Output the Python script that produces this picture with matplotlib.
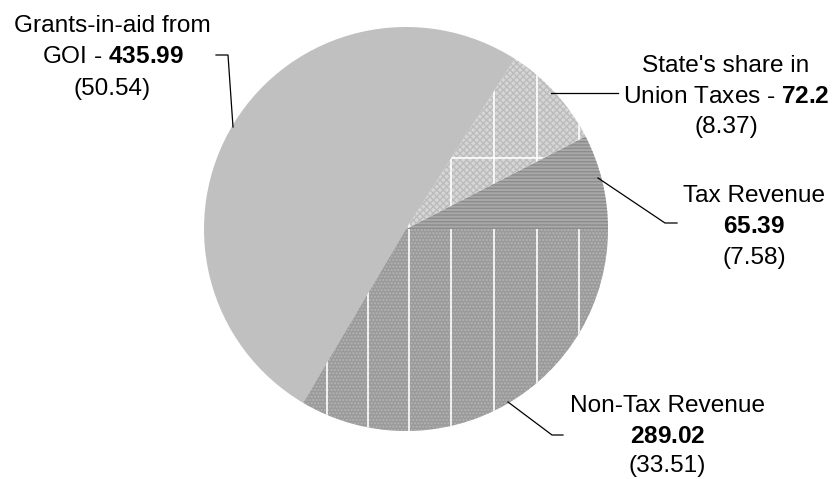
import matplotlib
matplotlib.use("Agg")
import matplotlib.pyplot as plt

plt.rcParams['font.family'] = ['Liberation Sans', 'DejaVu Sans']
plt.rcParams['mathtext.fontset'] = 'custom'
plt.rcParams['mathtext.rm'] = 'Liberation Sans'
plt.rcParams['mathtext.bf'] = 'Liberation Sans:bold'
plt.rcParams['hatch.linewidth'] = 1.0

# data (pie runs counter-clockwise from 3 o'clock)
names = ["Tax Revenue", "State's share in Union Taxes", "Grants-in-aid from GOI", "Non-Tax Revenue"]
values = [65.39, 72.2, 435.99, 289.02]
shares = [7.58, 8.37, 50.54, 33.51]

W, H = 833, 479
fig = plt.figure(figsize=(W / 100, H / 100), dpi=100)
ax = fig.add_axes([0, 0, 1, 1])


def fy(y):
    # pixel row (from top) -> data y
    return H - y


cx, cy, r = 406, 229, 202
faces = ['#a9a9a9', '#d6d6d6', '#c0c0c0', '#9a9a9a']
hatch_cols = ['#8c8c8c', '#bcbcbc', '#c0c0c0', '#b4b4b4']
hatches = ['-----', 'xxxxx', None, '.....']

wedges, _ = ax.pie(values, startangle=0, counterclock=True, radius=r,
                   center=(cx, fy(cy)), colors=faces, frame=True,
                   wedgeprops=dict(linewidth=0))
for w, hc, h in zip(wedges, hatch_cols, hatches):
    if h:
        w.set_hatch(h)
        w.set_edgecolor(hc)
        w.set_linewidth(0)

# white grid lines inside patterned wedges
vx = [327, 368, 409, 451, 494, 537, 579]
for x in vx:
    for wi in (1, 3):
        ln, = ax.plot([x, x], [fy(0), fy(H)], color='white', lw=1.2)
        ln.set_clip_path(wedges[wi])
ln, = ax.plot([0, W], [fy(158), fy(158)], color='white', lw=1.2)
ln.set_clip_path(wedges[1])

# leader lines
leaders = [
    [(216, 55), (228, 55), (233, 127)],
    [(551, 93), (618, 93)],
    [(598, 178), (665, 223), (677, 223)],
    [(508, 402), (552, 435), (563, 435)],
]
for pts in leaders:
    ax.plot([p[0] for p in pts], [fy(p[1]) for p in pts], color='black', lw=0.9)

fs = 17.6
labels = [
    (112.5, [(32, "Grants-in-aid from"), (63, r"GOI - $\mathbf{435.99}$"), (95, "(50.54)")]),
    (726, [(72, "State's share in"), (103, r"Union Taxes - $\mathbf{72.2}$"), (133, "(8.37)")]),
    (754.5, [(202, "Tax Revenue"), (233, r"$\mathbf{65.39}$"), (264, "(7.58)")]),
    (667.5, [(412, "Non-Tax Revenue"), (443, r"$\mathbf{289.02}$"), (472, "(33.51)")]),
]
for x, lines in labels:
    for yb, s in lines:
        ax.text(x, fy(yb), s, ha='center', va='baseline', fontsize=fs, color='black')

ax.set_xlim(0, W)
ax.set_ylim(0, H)
ax.set_aspect('auto')
ax.axis('off')

fig.savefig('out.png', dpi=100)
